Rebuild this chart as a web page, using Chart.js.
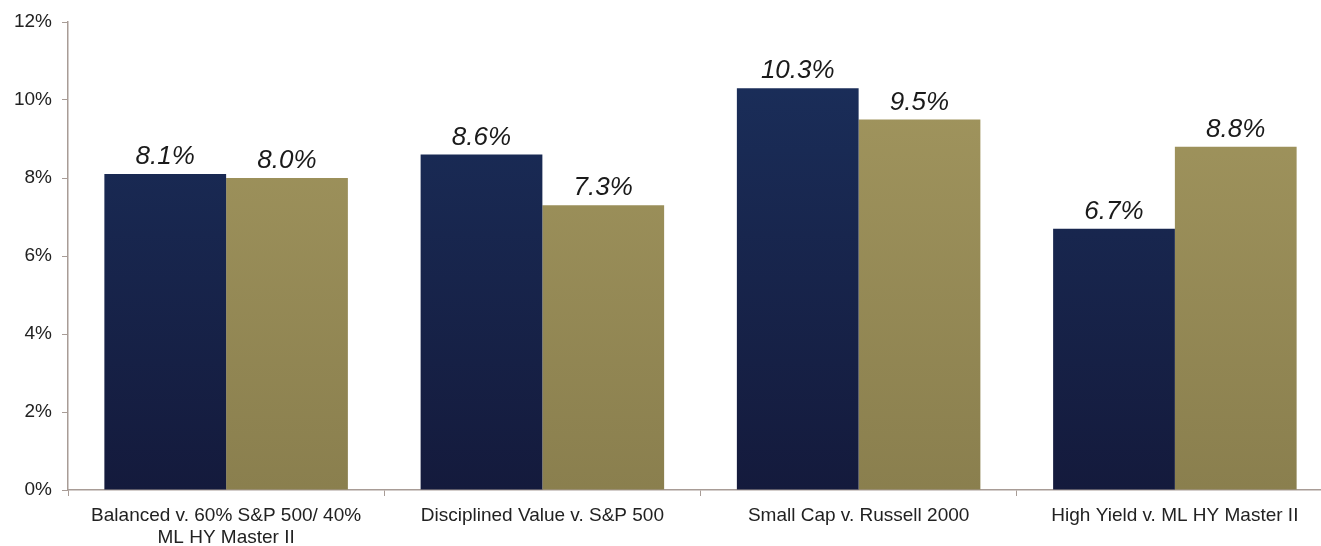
<!DOCTYPE html>
<html><head><meta charset="utf-8">
<script src="https://cdn.jsdelivr.net/npm/chart.js@4/dist/chart.umd.min.js"></script>
<style>html,body{margin:0;padding:0;background:#fff;overflow:hidden}#wrap{width:1334px;height:546px}</style>
</head><body><div id="wrap"><canvas id="c" width="1334" height="546"></canvas></div>
<script>
const categories = [["Balanced v. 60% S&P 500/ 40%","ML HY Master II"],"Disciplined Value v. S&P 500","Small Cap v. Russell 2000","High Yield v. ML HY Master II"];
const fundValues = [8.1, 8.6, 10.3, 6.7];
const benchmarkValues = [8.0, 7.3, 9.5, 8.8];
const yTicks = [0,2,4,6,8,10,12];

function grad(ctx, area, top, bottom){
  const g = ctx.createLinearGradient(0, area.top, 0, area.bottom);
  g.addColorStop(0, top); g.addColorStop(1, bottom); return g;
}
const labelPlugin = {
  id:'vals',
  afterDatasetsDraw(chart){
    const ctx = chart.ctx;
    ctx.save();
    ctx.font = 'italic 26px "Liberation Sans", Arial, sans-serif';
    ctx.fillStyle = '#1a1a1a';
    ctx.textAlign = 'center';
    ctx.textBaseline = 'alphabetic';
    chart.data.datasets.forEach((ds, i) => {
      chart.getDatasetMeta(i).data.forEach((bar, j) => {
        ctx.fillText(ds.data[j].toFixed(1) + '%', bar.x, bar.y - 10);
      });
    });
    ctx.restore();
  }
};
new Chart(document.getElementById('c'), {
  type:'bar',
  data:{
    labels: categories,
    datasets:[
      {label:'Fund', data:fundValues,
       backgroundColor:(c)=>{const a=c.chart.chartArea; if(!a) return '#16214a'; return grad(c.chart.ctx,a,'#1b305d','#141a3c');}},
      {label:'Benchmark', data:benchmarkValues,
       backgroundColor:(c)=>{const a=c.chart.chartArea; if(!a) return '#8f8552'; return grad(c.chart.ctx,a,'#a49860','#8a7f4e');}}
    ]
  },
  options:{
    responsive:false, animation:false,
    layout:{padding:{top:22,right:1,bottom:0,left:0}},
    categoryPercentage:0.77, barPercentage:1.0,
    plugins:{legend:{display:false}, tooltip:{enabled:false}},
    scales:{
      x:{
        afterFit(s){ s.height = 56; },
        grid:{drawOnChartArea:false, drawTicks:true, tickLength:6, color:'#a89c96', offset:true},
        border:{display:true, color:'#a89c96', width:1.5},
        ticks:{color:'#222', font:{family:'"Liberation Sans", Arial, sans-serif', size:19, lineHeight:1.16}, padding:9, maxRotation:0, autoSkip:false}
      },
      y:{
        min:0, max:12,
        afterFit(s){ s.width = 68; },
        afterBuildTicks(s){ s.ticks = yTicks.map(v=>({value:v})); },
        grid:{drawOnChartArea:false, drawTicks:true, tickLength:6, color:'#a89c96'},
        border:{display:true, color:'#a89c96', width:1.5},
        ticks:{color:'#222', font:{family:'"Liberation Sans", Arial, sans-serif', size:19}, padding:10, callback:(v)=>v+'%'}
      }
    }
  },
  plugins:[labelPlugin]
});
</script></body></html>
